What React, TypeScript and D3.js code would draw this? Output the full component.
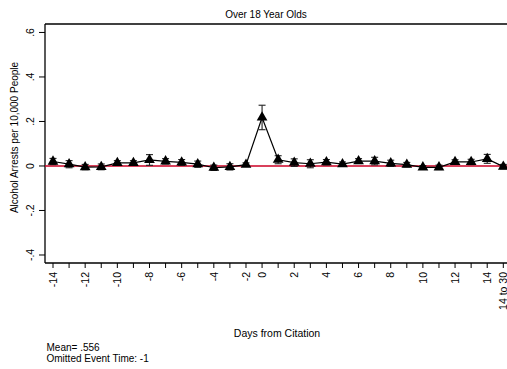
import React from "react";
import * as d3 from "d3";

const dayLabels = ["-14","-13","-12","-11","-10","-9","-8","-7","-6","-5","-4","-3","-2","0","1","2","3","4","5","6","7","8","9","10","11","12","13","14","14 to 30"];
const estimates = [0.020,0.008,-0.005,-0.004,0.014,0.014,0.027,0.021,0.016,0.008,-0.008,-0.004,0.006,0.218,0.028,0.015,0.010,0.017,0.008,0.022,0.022,0.012,0.006,-0.006,-0.006,0.018,0.018,0.032,-0.003];
const ciLow = [0.006,-0.008,-0.017,-0.017,0.004,0.004,0.003,0.009,0.003,-0.006,-0.020,-0.018,-0.002,0.163,0.010,-0.002,-0.008,0.005,-0.002,0.011,0.005,-0.002,-0.004,-0.014,-0.016,0.008,0.006,0.012,-0.013];
const ciHigh = [0.034,0.024,0.007,0.009,0.024,0.024,0.051,0.033,0.029,0.022,0.004,0.010,0.014,0.273,0.046,0.032,0.028,0.029,0.018,0.033,0.039,0.026,0.016,0.002,0.004,0.028,0.030,0.052,0.007];
const yTicks = [-0.4,-0.2,0,0.2,0.4,0.6];
const yTickLabels = ["-.4","-.2","0",".2",".4",".6"];
const titleText = "Over 18 Year Olds";
const yTitle = "Alcohol Arrests per 10,000 People";
const xTitle = "Days from Citation";
const notes = ["Mean= .556","Omitted Event Time: -1"];

const W = 507, H = 369;
const plot = { left: 45, right: 511, top: 24, bottom: 263 };
const font = "'Liberation Sans', Arial, Helvetica, sans-serif";

export default function App() {
  const idx = dayLabels.map((_, i) => i);
  const x = d3.scaleLinear().domain([0, dayLabels.length - 1]).range([53, 503.3]);
  const y = d3.scaleLinear().domain([-0.436, 0.638]).range([plot.bottom, plot.top]);
  const line = d3.line<number>().x(i => x(i)).y(i => y(estimates[i]));
  const tri = d3.symbol().type(d3.symbolTriangle).size(50)();
  const showLabel = (l: string) => l === "14 to 30" || Number(l) % 2 === 0;

  return (
    <svg width={W} height={H} style={{ position: "absolute", left: 0, top: 0, background: "#fff" }} fontFamily={font}>
      <rect x={0} y={0} width={W} height={H} fill="#fff" />
      <text x={266} y={17.5} fontSize={10} textAnchor="middle" fill="#000">{titleText}</text>
      <line x1={plot.left} x2={plot.right} y1={plot.top} y2={plot.top} stroke="#000" strokeWidth={1.3} />
      <line x1={plot.left} x2={plot.left} y1={plot.top} y2={plot.bottom} stroke="#000" strokeWidth={1.3} />
      <line x1={plot.left} x2={plot.right} y1={plot.bottom} y2={plot.bottom} stroke="#000" strokeWidth={1.3} />
      {yTicks.map((t, i) => (
        <g key={"yt" + i}>
          <line x1={plot.left - 6} x2={plot.left} y1={y(t)} y2={y(t)} stroke="#000" strokeWidth={1} />
          <text transform={`translate(34,${y(t)}) rotate(-90)`} fontSize={10.5} textAnchor="middle" fill="#000">{yTickLabels[i]}</text>
        </g>
      ))}
      <text transform={`translate(14.5,137.5) rotate(-90)`} fontSize={10} textAnchor="middle" dy="0.35em" fill="#000">{yTitle}</text>
      {idx.map(i => (
        <g key={"xt" + i}>
          <line x1={x(i)} x2={x(i)} y1={plot.bottom} y2={plot.bottom + 5} stroke="#000" strokeWidth={1} />
          {showLabel(dayLabels[i]) && (
            <text transform={`translate(${x(i)},272) rotate(-90)`} fontSize={10.5} textAnchor="end" dy="0.35em" fill="#000">{dayLabels[i]}</text>
          )}
        </g>
      ))}
      <text x={277} y={336.5} fontSize={10.5} textAnchor="middle" fill="#000">{xTitle}</text>
      <line x1={plot.left} x2={plot.right} y1={y(0)} y2={y(0)} stroke="#cc0025" strokeWidth={1.3} />
      {idx.map(i => (
        <g key={"eb" + i} stroke="#222" strokeWidth={1.1}>
          <line x1={x(i)} x2={x(i)} y1={y(ciLow[i])} y2={y(ciHigh[i])} />
          <line x1={x(i) - 3.5} x2={x(i) + 3.5} y1={y(ciLow[i])} y2={y(ciLow[i])} />
          <line x1={x(i) - 3.5} x2={x(i) + 3.5} y1={y(ciHigh[i])} y2={y(ciHigh[i])} />
        </g>
      ))}
      <path d={line(idx) || ""} fill="none" stroke="#000" strokeWidth={1.2} />
      {idx.map(i => (
        <path key={"m" + i} d={tri || ""} transform={`translate(${x(i)},${y(estimates[i])})`} fill="#000" />
      ))}
      {notes.map((n, i) => (
        <text key={"n" + i} x={46.5} y={350.5 + i * 11} fontSize={10} fill="#000">{n}</text>
      ))}
    </svg>
  );
}
